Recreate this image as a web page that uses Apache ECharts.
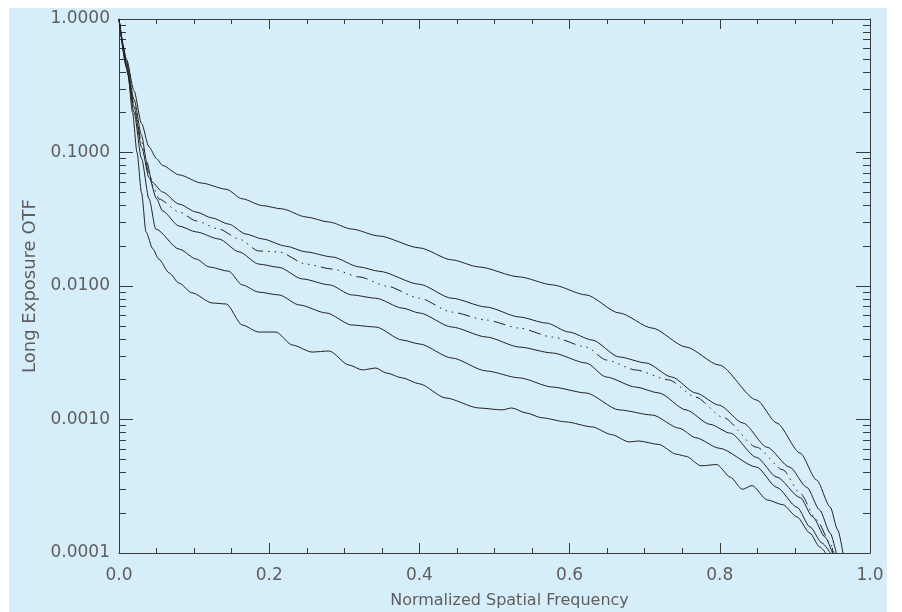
<!DOCTYPE html>
<html>
<head>
<meta charset="utf-8">
<script src="https://cdn.jsdelivr.net/npm/echarts@6/dist/echarts.min.js"></script>
<style>
  html, body { margin: 0; padding: 0; background: #ffffff; width: 902px; height: 612px; overflow: hidden; }
  #chart { position: absolute; left: 9px; top: 8px; width: 878px; height: 604px; }
</style>
</head>
<body>
<div id="chart"></div>
<script>
// x tick labels
const xTickLabels = ['0.0', '0.2', '0.4', '0.6', '0.8', '1.0'];
// y tick labels (log axis decades)
const yTickLabels = ['0.0001', '0.0010', '0.0100', '0.1000', '1.0000'];

// Curves: [normalized spatial frequency, long exposure OTF]
const curveA = [[0,1],[0.01,0.5],[0.02,0.29],[0.03,0.165],[0.04,0.11],[0.05,0.09],[0.058,0.080],[0.080,0.068],[0.110,0.059],[0.143,0.053],[0.164,0.045],[0.191,0.040],[0.217,0.0378],[0.249,0.0329],[0.280,0.0301],[0.310,0.0267],[0.346,0.0237],[0.400,0.0193],[0.443,0.0157],[0.479,0.0139],[0.533,0.0117],[0.577,0.0102],[0.622,0.00857],[0.666,0.00628],[0.710,0.00484],[0.755,0.00349],[0.799,0.00256],[0.849,0.0014],[0.876,0.00094],[0.907,0.00056],[0.929,0.000352],[0.947,0.000221],[0.957,0.000149],[0.964,0.0001]];
const curveB = [[0,1],[0.01,0.48],[0.02,0.25],[0.03,0.135],[0.037,0.085],[0.044,0.060],[0.058,0.0506],[0.080,0.0411],[0.103,0.0358],[0.124,0.0323],[0.146,0.0291],[0.169,0.0245],[0.191,0.0225],[0.222,0.0199],[0.249,0.0180],[0.284,0.0165],[0.320,0.0139],[0.346,0.0129],[0.400,0.0103],[0.443,0.0081],[0.489,0.00696],[0.533,0.00586],[0.569,0.00528],[0.599,0.00452],[0.630,0.00394],[0.666,0.00294],[0.702,0.00265],[0.736,0.00208],[0.768,0.00158],[0.799,0.00128],[0.831,0.00094],[0.863,0.00062],[0.893,0.00044],[0.916,0.00031],[0.933,0.00021],[0.947,0.000141],[0.955,0.0001]];
const curveC = [[0,1],[0.01,0.46],[0.02,0.23],[0.03,0.12],[0.04,0.07],[0.047,0.053],[0.053,0.0449],[0.080,0.0358],[0.103,0.0307],[0.133,0.0267],[0.160,0.0225],[0.186,0.0183],[0.213,0.0180],[0.249,0.0146],[0.284,0.0134],[0.320,0.0117],[0.356,0.0100],[0.400,0.0081],[0.443,0.00638],[0.489,0.00556],[0.533,0.00484],[0.577,0.00415],[0.622,0.00349],[0.649,0.00279],[0.688,0.00235],[0.732,0.00198],[0.768,0.00147],[0.804,0.00104],[0.849,0.00062],[0.884,0.00042],[0.907,0.00028],[0.929,0.000177],[0.947,0.000119],[0.952,0.0001]];
const curveD = [[0,1],[0.01,0.45],[0.02,0.22],[0.03,0.11],[0.04,0.065],[0.05,0.045],[0.058,0.0365],[0.080,0.0281],[0.103,0.0254],[0.133,0.0225],[0.160,0.0180],[0.186,0.0146],[0.213,0.0138],[0.244,0.0113],[0.280,0.0102],[0.310,0.00857],[0.342,0.0081],[0.377,0.00684],[0.400,0.00628],[0.443,0.00493],[0.489,0.00415],[0.533,0.00349],[0.577,0.00315],[0.622,0.00265],[0.649,0.00208],[0.688,0.00175],[0.719,0.00158],[0.755,0.00118],[0.787,0.00092],[0.814,0.00079],[0.849,0.00052],[0.876,0.00037],[0.907,0.00026],[0.924,0.000186],[0.940,0.000132],[0.950,0.0001]];
const curveE = [[0,1],[0.01,0.43],[0.02,0.2],[0.03,0.09],[0.04,0.045],[0.049,0.0267],[0.080,0.0189],[0.103,0.0159],[0.120,0.0139],[0.146,0.0129],[0.164,0.0102],[0.186,0.0090],[0.213,0.00857],[0.240,0.00721],[0.276,0.00628],[0.310,0.0051],[0.342,0.00493],[0.377,0.00394],[0.400,0.00368],[0.443,0.00289],[0.489,0.00231],[0.533,0.00205],[0.577,0.00175],[0.622,0.00158],[0.666,0.00118],[0.710,0.00108],[0.746,0.00086],[0.768,0.00073],[0.799,0.00061],[0.849,0.00044],[0.876,0.00031],[0.903,0.00022],[0.920,0.000157],[0.936,0.000119],[0.947,0.0001]];
const curveF = [[0,1],[0.006,0.62],[0.012,0.38],[0.018,0.2],[0.024,0.1],[0.03,0.05],[0.036,0.0254],[0.045,0.019],[0.053,0.0159],[0.067,0.0125],[0.080,0.0105],[0.097,0.0089],[0.124,0.00746],[0.143,0.00733],[0.164,0.0051],[0.186,0.00452],[0.209,0.00452],[0.231,0.00361],[0.257,0.0032],[0.280,0.00326],[0.306,0.00256],[0.324,0.00235],[0.342,0.00243],[0.356,0.00223],[0.377,0.00205],[0.400,0.00185],[0.435,0.00145],[0.479,0.00122],[0.510,0.00118],[0.523,0.00122],[0.542,0.00112],[0.563,0.00103],[0.595,0.00096],[0.630,0.00088],[0.656,0.00077],[0.679,0.00068],[0.692,0.00069],[0.719,0.00065],[0.742,0.00055],[0.755,0.00053],[0.775,0.00045],[0.796,0.00046],[0.814,0.00037],[0.830,0.0003],[0.843,0.00032],[0.863,0.00025],[0.884,0.00023],[0.903,0.000186],[0.920,0.000141],[0.933,0.000111],[0.941,0.0001]];

const xTitle = 'Normalized Spatial Frequency';
const yTitle = 'Long Exposure OTF';

// minor log ticks 2..9 x 10^k
const yMinorTicks = [];
for (let k = -4; k < 0; k++) {
  for (let m = 2; m <= 9; m++) yMinorTicks.push(+(m * Math.pow(10, k)).toPrecision(3));
}

const axisColor = '#3a3a3a';
const textColor = '#5e5e5e';
const fontFam = 'DejaVu Sans';
const lineColor = '#222222';

function mkLine(data, type) {
  return {
    type: 'line', data: data, xAxisIndex: 0, yAxisIndex: 0,
    showSymbol: false, symbol: 'none', smooth: 0.25, smoothMonotone: 'x', silent: true,
    lineStyle: { color: lineColor, width: 1, type: type || 'solid' },
    emphasis: { disabled: true }
  };
}

const chart = echarts.init(document.getElementById('chart'), null, { renderer: 'canvas' });
chart.setOption({
  backgroundColor: '#d6eefa',
  animation: false,
  grid: { left: 110, right: 17, top: 11, bottom: 59, containLabel: false, outerBoundsMode: 'none' },
  xAxis: [
    {
      type: 'value', position: 'bottom', min: 0, max: 1, interval: 0.2,
      axisLine: { show: true, lineStyle: { color: axisColor, width: 1 } },
      axisTick: { show: true, inside: true, length: 10, lineStyle: { color: axisColor, width: 1 } },
      minorTick: { show: true, splitNumber: 4, length: 5, lineStyle: { color: axisColor, width: 1 } },
      splitLine: { show: false }, minorSplitLine: { show: false },
      axisLabel: { show: true, margin: 14, color: textColor, fontFamily: fontFam, fontSize: 17,
        formatter: function (v) { return xTickLabels[Math.round(v / 0.2)]; } },
      name: xTitle, nameLocation: 'middle', nameGap: 40,
      nameTextStyle: { color: textColor, fontFamily: fontFam, fontSize: 16, padding: [0, 0, 0, 30] }
    },
    {
      type: 'value', position: 'top', min: 0, max: 1, interval: 0.2,
      axisLine: { show: true, lineStyle: { color: axisColor, width: 1 } },
      axisTick: { show: true, inside: true, length: 10, lineStyle: { color: axisColor, width: 1 } },
      minorTick: { show: true, splitNumber: 4, length: 5, lineStyle: { color: axisColor, width: 1 } },
      splitLine: { show: false }, minorSplitLine: { show: false },
      axisLabel: { show: false }
    }
  ],
  yAxis: [
    {
      type: 'log', logBase: 10, position: 'left', min: 0.0001, max: 1,
      axisLine: { show: true, lineStyle: { color: axisColor, width: 1 } },
      axisTick: { show: true, inside: true, length: 14, lineStyle: { color: axisColor, width: 1 } },
      splitLine: { show: false },
      axisLabel: { show: true, margin: 9, color: textColor, fontFamily: fontFam, fontSize: 17,
        formatter: function (v) { const i = Math.round(Math.log10(v)) + 4; return yTickLabels[i]; } },
      name: yTitle, nameLocation: 'middle', nameGap: 80,
      nameTextStyle: { color: textColor, fontFamily: fontFam, fontSize: 18 }
    },
    {
      type: 'log', logBase: 10, position: 'left', min: 0.0001, max: 1,
      axisLine: { show: false },
      axisTick: { show: true, inside: true, length: 7, customValues: yMinorTicks, lineStyle: { color: axisColor, width: 1 } },
      splitLine: { show: false }, axisLabel: { show: false }
    },
    {
      type: 'log', logBase: 10, position: 'right', min: 0.0001, max: 1,
      axisLine: { show: true, lineStyle: { color: axisColor, width: 1 } },
      axisTick: { show: true, inside: true, length: 14, lineStyle: { color: axisColor, width: 1 } },
      splitLine: { show: false }, axisLabel: { show: false }
    },
    {
      type: 'log', logBase: 10, position: 'right', min: 0.0001, max: 1,
      axisLine: { show: false },
      axisTick: { show: true, inside: true, length: 7, customValues: yMinorTicks, lineStyle: { color: axisColor, width: 1 } },
      splitLine: { show: false }, axisLabel: { show: false }
    }
  ],
  series: [
    mkLine(curveA),
    mkLine(curveB),
    mkLine(curveC, [12, 5, 1.5, 5, 1.5, 5, 1.5, 5]),
    mkLine(curveD),
    mkLine(curveE),
    mkLine(curveF)
  ]
});
</script>
</body>
</html>
